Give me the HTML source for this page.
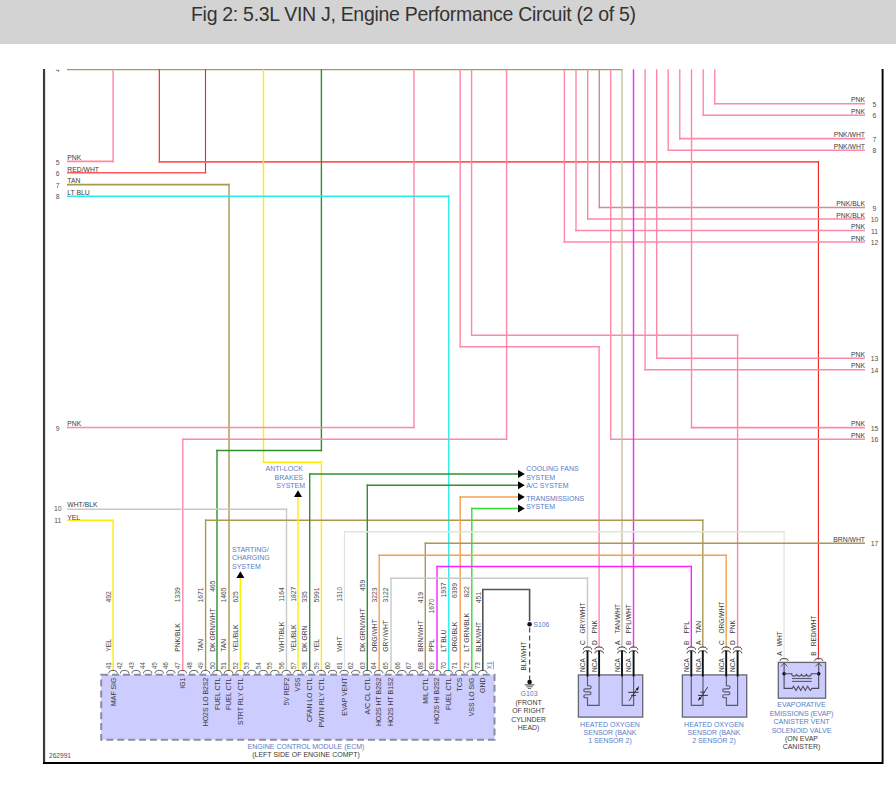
<!DOCTYPE html>
<html><head><meta charset="utf-8"><style>
html,body{margin:0;padding:0;background:#fff;width:896px;height:787px;overflow:hidden}
.hdr{position:absolute;left:0;top:0;width:896px;height:44px;background:#d3d3d3}
.ttl{position:absolute;left:191px;top:2.9px;font-family:"Liberation Sans",sans-serif;font-size:19.5px;letter-spacing:-0.3px;color:#333;white-space:nowrap}
svg{position:absolute;left:0;top:0}
svg text{font-family:"Liberation Sans",sans-serif}
</style></head><body>
<div class="hdr"></div>
<div class="ttl">Fig 2: 5.3L VIN J, Engine Performance Circuit (2 of 5)</div>
<svg width="896" height="787" viewBox="0 0 896 787">
<path d="M67.00,69.50 L622.60,69.50" stroke="#a39a5e" stroke-width="1.25" fill="none"/>
<path d="M113.10,69.30 L113.10,162.20" stroke="#ff88a6" stroke-width="1.4" fill="none"/>
<path d="M113.80,161.40 L67.00,161.40" stroke="#ff88a6" stroke-width="1.6" fill="none"/>
<path d="M205.50,69.30 L205.50,173.60" stroke="#ee2020" stroke-width="1.1" fill="none"/>
<path d="M206.05,172.80 L67.00,172.80" stroke="#ff5a5a" stroke-width="1.6" fill="none"/>
<path d="M159.30,69.30 L159.30,162.70" stroke="#ee2020" stroke-width="1.1" fill="none"/>
<path d="M158.75,161.90 L818.95,161.90" stroke="#ff5a5a" stroke-width="1.6" fill="none"/>
<path d="M818.40,161.10 L818.40,659.20" stroke="#ee2020" stroke-width="1.1" fill="none"/>
<path d="M67.00,184.60 L229.70,184.60" stroke="#a89852" stroke-width="1.6" fill="none"/>
<path d="M229.00,183.80 L229.00,671.00" stroke="#a89852" stroke-width="1.4" fill="none"/>
<path d="M263.50,69.30 L263.50,463.00" stroke="#ffee00" stroke-width="1.4" fill="none"/>
<path d="M262.80,462.20 L322.10,462.20" stroke="#ffee00" stroke-width="1.6" fill="none"/>
<path d="M321.40,461.40 L321.40,671.00" stroke="#ffee00" stroke-width="1.4" fill="none"/>
<path d="M321.40,69.30 L321.40,451.30" stroke="#2f902f" stroke-width="1.4" fill="none"/>
<path d="M322.10,450.50 L216.30,450.50" stroke="#2f902f" stroke-width="1.6" fill="none"/>
<path d="M217.00,449.70 L217.00,671.00" stroke="#2f902f" stroke-width="1.4" fill="none"/>
<path d="M414.00,69.30 L414.00,428.30" stroke="#ff88a6" stroke-width="1.4" fill="none"/>
<path d="M414.70,427.50 L67.00,427.50" stroke="#ff88a6" stroke-width="1.6" fill="none"/>
<path d="M67.00,196.30 L449.50,196.30" stroke="#22eeee" stroke-width="1.6" fill="none"/>
<path d="M448.80,195.50 L448.80,671.00" stroke="#22eeee" stroke-width="1.4" fill="none"/>
<path d="M460.20,69.30 L460.20,347.60" stroke="#ff88a6" stroke-width="1.4" fill="none"/>
<path d="M459.50,346.80 L599.80,346.80" stroke="#ff88a6" stroke-width="1.6" fill="none"/>
<path d="M599.10,346.00 L599.10,647.50" stroke="#ff88a6" stroke-width="1.4" fill="none"/>
<path d="M471.60,69.30 L471.60,336.00" stroke="#ff88a6" stroke-width="1.4" fill="none"/>
<path d="M470.90,335.20 L738.30,335.20" stroke="#ff88a6" stroke-width="1.6" fill="none"/>
<path d="M737.60,334.40 L737.60,647.50" stroke="#ff88a6" stroke-width="1.4" fill="none"/>
<path d="M506.60,69.30 L506.60,440.00" stroke="#ff88a6" stroke-width="1.4" fill="none"/>
<path d="M507.30,439.20 L182.10,439.20" stroke="#ff88a6" stroke-width="1.6" fill="none"/>
<path d="M182.80,438.40 L182.80,671.00" stroke="#ff88a6" stroke-width="1.4" fill="none"/>
<path d="M564.40,69.30 L564.40,242.80" stroke="#ff88a6" stroke-width="1.4" fill="none"/>
<path d="M563.70,242.00 L865.00,242.00" stroke="#ff88a6" stroke-width="1.6" fill="none"/>
<path d="M576.00,69.30 L576.00,231.30" stroke="#ff88a6" stroke-width="1.4" fill="none"/>
<path d="M575.30,230.50 L865.00,230.50" stroke="#ff88a6" stroke-width="1.6" fill="none"/>
<path d="M587.70,69.30 L587.70,219.80" stroke="#ff88a6" stroke-width="1.4" fill="none"/>
<path d="M587.00,219.00 L865.00,219.00" stroke="#ff88a6" stroke-width="1.6" fill="none"/>
<path d="M599.30,69.30 L599.30,208.30" stroke="#d4899a" stroke-width="1.4" fill="none"/>
<path d="M598.60,207.50 L865.00,207.50" stroke="#d4899a" stroke-width="1.6" fill="none"/>
<path d="M610.70,69.30 L610.70,440.00" stroke="#ff88a6" stroke-width="1.4" fill="none"/>
<path d="M610.00,439.20 L865.00,439.20" stroke="#ff88a6" stroke-width="1.6" fill="none"/>
<path d="M622.00,69.30 L622.00,647.50" stroke="#c9bd9c" stroke-width="1.4" fill="none"/>
<path d="M633.50,69.30 L633.50,647.50" stroke="#ff22ff" stroke-width="1.4" fill="none"/>
<path d="M645.10,69.30 L645.10,370.60" stroke="#ff88a6" stroke-width="1.4" fill="none"/>
<path d="M644.40,369.80 L865.00,369.80" stroke="#ff88a6" stroke-width="1.6" fill="none"/>
<path d="M656.70,69.30 L656.70,359.00" stroke="#ff88a6" stroke-width="1.4" fill="none"/>
<path d="M656.00,358.20 L865.00,358.20" stroke="#ff88a6" stroke-width="1.6" fill="none"/>
<path d="M668.20,69.30 L668.20,151.00" stroke="#ff88a6" stroke-width="1.4" fill="none"/>
<path d="M667.50,150.20 L865.00,150.20" stroke="#ff88a6" stroke-width="1.6" fill="none"/>
<path d="M679.80,69.30 L679.80,139.40" stroke="#ff88a6" stroke-width="1.4" fill="none"/>
<path d="M679.10,138.60 L865.00,138.60" stroke="#ff88a6" stroke-width="1.6" fill="none"/>
<path d="M691.50,69.30 L691.50,428.40" stroke="#ff88a6" stroke-width="1.4" fill="none"/>
<path d="M690.80,427.60 L865.00,427.60" stroke="#ff88a6" stroke-width="1.6" fill="none"/>
<path d="M703.20,69.30 L703.20,116.10" stroke="#ff88a6" stroke-width="1.4" fill="none"/>
<path d="M702.50,115.30 L865.00,115.30" stroke="#ff88a6" stroke-width="1.6" fill="none"/>
<path d="M714.80,69.30 L714.80,104.60" stroke="#ff88a6" stroke-width="1.4" fill="none"/>
<path d="M714.10,103.80 L865.00,103.80" stroke="#ff88a6" stroke-width="1.6" fill="none"/>
<path d="M67.00,509.20 L287.20,509.20" stroke="#c8c8c8" stroke-width="1.6" fill="none"/>
<path d="M286.50,508.40 L286.50,671.00" stroke="#c8c8c8" stroke-width="1.4" fill="none"/>
<path d="M67.00,520.20 L113.80,520.20" stroke="#ffee00" stroke-width="1.6" fill="none"/>
<path d="M113.10,519.40 L113.10,671.00" stroke="#ffee00" stroke-width="1.4" fill="none"/>
<path d="M205.60,671.00 L205.60,519.40" stroke="#a89852" stroke-width="1.4" fill="none"/>
<path d="M204.90,520.20 L703.50,520.20" stroke="#a89852" stroke-width="1.6" fill="none"/>
<path d="M702.80,519.40 L702.80,647.50" stroke="#a89852" stroke-width="1.4" fill="none"/>
<path d="M240.30,577.00 L240.30,671.00" stroke="#ffee00" stroke-width="1.4" fill="none"/>
<path d="M298.00,496.00 L298.00,671.00" stroke="#ffee00" stroke-width="1.4" fill="none"/>
<path d="M309.70,671.00 L309.70,473.20" stroke="#2f902f" stroke-width="1.4" fill="none"/>
<path d="M309.00,474.00 L518.00,474.00" stroke="#2f902f" stroke-width="1.6" fill="none"/>
<path d="M367.30,671.00 L367.30,484.50" stroke="#2f902f" stroke-width="1.4" fill="none"/>
<path d="M366.60,485.30 L518.00,485.30" stroke="#2f902f" stroke-width="1.6" fill="none"/>
<path d="M460.20,671.00 L460.20,496.20" stroke="#f5a050" stroke-width="1.4" fill="none"/>
<path d="M459.50,497.00 L518.00,497.00" stroke="#f5a050" stroke-width="1.6" fill="none"/>
<path d="M471.80,671.00 L471.80,507.70" stroke="#33dd33" stroke-width="1.4" fill="none"/>
<path d="M471.10,508.50 L518.00,508.50" stroke="#33dd33" stroke-width="1.6" fill="none"/>
<path d="M344.50,671.00 L344.50,530.90" stroke="#e2e2e2" stroke-width="1.2" fill="none"/>
<path d="M343.90,531.70 L784.70,531.70" stroke="#e2e2e2" stroke-width="1.6" fill="none"/>
<path d="M784.10,530.90 L784.10,659.20" stroke="#e2e2e2" stroke-width="1.2" fill="none"/>
<path d="M425.30,671.00 L425.30,542.50" stroke="#a89852" stroke-width="1.4" fill="none"/>
<path d="M424.60,543.30 L865.00,543.30" stroke="#a89852" stroke-width="1.6" fill="none"/>
<path d="M379.20,671.00 L379.20,554.50" stroke="#f5a050" stroke-width="1.4" fill="none"/>
<path d="M378.50,555.30 L726.90,555.30" stroke="#f5a050" stroke-width="1.6" fill="none"/>
<path d="M726.20,554.50 L726.20,647.50" stroke="#f5a050" stroke-width="1.4" fill="none"/>
<path d="M437.00,671.00 L437.00,565.70" stroke="#ff22ff" stroke-width="1.4" fill="none"/>
<path d="M436.30,566.50 L692.00,566.50" stroke="#ff22ff" stroke-width="1.6" fill="none"/>
<path d="M691.30,565.70 L691.30,647.50" stroke="#ff22ff" stroke-width="1.4" fill="none"/>
<path d="M391.00,671.00 L391.00,577.40" stroke="#c8c8c8" stroke-width="1.4" fill="none"/>
<path d="M390.30,578.20 L588.20,578.20" stroke="#c8c8c8" stroke-width="1.6" fill="none"/>
<path d="M587.50,577.40 L587.50,647.50" stroke="#c8c8c8" stroke-width="1.4" fill="none"/>
<path d="M482.80,671.00 L482.80,589.50 L529.60,589.50 L529.60,621.00" stroke="#555" stroke-width="1.6" fill="none"/>
<path d="M529.60,627.50 L529.60,680.00" stroke="#555" stroke-width="1.3" fill="none" stroke-dasharray="5,3"/>
<path d="M236.40,578.00 L240.40,571.20 L244.40,578.00 Z" fill="#000"/>
<path d="M294.00,497.00 L298.00,490.20 L302.00,497.00 Z" fill="#000"/>
<path d="M518.00,470.00 L524.80,474.00 L518.00,478.00 Z" fill="#000"/>
<path d="M518.00,481.30 L524.80,485.30 L518.00,489.30 Z" fill="#000"/>
<path d="M518.00,493.00 L524.80,497.00 L518.00,501.00 Z" fill="#000"/>
<path d="M518.00,504.50 L524.80,508.50 L518.00,512.50 Z" fill="#000"/>
<path d="M44.05,69.00 L44.05,764.10" stroke="#3c3c3c" stroke-width="2.2" fill="none"/>
<path d="M43.00,763.00 L882.60,763.00 L882.60,69.00" stroke="#000" stroke-width="1.9" fill="none"/>
<text x="67.30" y="160.20" font-size="6.8" fill="#3a3a3a">PNK</text>
<text x="57.70" y="164.50" font-size="6.8" fill="#505050" text-anchor="middle">5</text>
<text x="67.30" y="171.60" font-size="6.8" fill="#3a3a3a">RED/WHT</text>
<text x="57.70" y="175.90" font-size="6.8" fill="#505050" text-anchor="middle">6</text>
<text x="67.30" y="183.40" font-size="6.8" fill="#3a3a3a">TAN</text>
<text x="57.70" y="187.70" font-size="6.8" fill="#505050" text-anchor="middle">7</text>
<text x="67.30" y="195.10" font-size="6.8" fill="#3a3a3a">LT BLU</text>
<text x="57.70" y="199.40" font-size="6.8" fill="#505050" text-anchor="middle">8</text>
<text x="67.30" y="426.30" font-size="6.8" fill="#3a3a3a">PNK</text>
<text x="57.70" y="430.60" font-size="6.8" fill="#505050" text-anchor="middle">9</text>
<text x="67.30" y="507.20" font-size="6.8" fill="#3a3a3a">WHT/BLK</text>
<text x="57.70" y="511.30" font-size="6.8" fill="#505050" text-anchor="middle">10</text>
<text x="67.30" y="519.80" font-size="6.8" fill="#3a3a3a">YEL</text>
<text x="57.70" y="523.30" font-size="6.8" fill="#505050" text-anchor="middle">11</text>
<clipPath id="c4"><rect x="40" y="69.8" width="40" height="10"/></clipPath>
<text x="57.70" y="71.50" font-size="6.8" fill="#505050" text-anchor="middle" clip-path="url(#c4)">4</text>
<text x="865.00" y="102.40" font-size="6.8" fill="#3a3a3a" text-anchor="end">PNK</text>
<text x="874.50" y="106.90" font-size="6.8" fill="#505050" text-anchor="middle">5</text>
<text x="865.00" y="113.90" font-size="6.8" fill="#3a3a3a" text-anchor="end">PNK</text>
<text x="874.50" y="118.40" font-size="6.8" fill="#505050" text-anchor="middle">6</text>
<text x="865.00" y="137.20" font-size="6.8" fill="#3a3a3a" text-anchor="end">PNK/WHT</text>
<text x="874.50" y="141.70" font-size="6.8" fill="#505050" text-anchor="middle">7</text>
<text x="865.00" y="148.80" font-size="6.8" fill="#3a3a3a" text-anchor="end">PNK/WHT</text>
<text x="874.50" y="153.30" font-size="6.8" fill="#505050" text-anchor="middle">8</text>
<text x="865.00" y="206.10" font-size="6.8" fill="#3a3a3a" text-anchor="end">PNK/BLK</text>
<text x="874.50" y="210.60" font-size="6.8" fill="#505050" text-anchor="middle">9</text>
<text x="865.00" y="217.60" font-size="6.8" fill="#3a3a3a" text-anchor="end">PNK/BLK</text>
<text x="874.50" y="222.10" font-size="6.8" fill="#505050" text-anchor="middle">10</text>
<text x="865.00" y="229.10" font-size="6.8" fill="#3a3a3a" text-anchor="end">PNK</text>
<text x="874.50" y="233.60" font-size="6.8" fill="#505050" text-anchor="middle">11</text>
<text x="865.00" y="240.60" font-size="6.8" fill="#3a3a3a" text-anchor="end">PNK</text>
<text x="874.50" y="245.10" font-size="6.8" fill="#505050" text-anchor="middle">12</text>
<text x="865.00" y="356.80" font-size="6.8" fill="#3a3a3a" text-anchor="end">PNK</text>
<text x="874.50" y="361.30" font-size="6.8" fill="#505050" text-anchor="middle">13</text>
<text x="865.00" y="368.40" font-size="6.8" fill="#3a3a3a" text-anchor="end">PNK</text>
<text x="874.50" y="372.90" font-size="6.8" fill="#505050" text-anchor="middle">14</text>
<text x="865.00" y="426.20" font-size="6.8" fill="#3a3a3a" text-anchor="end">PNK</text>
<text x="874.50" y="430.70" font-size="6.8" fill="#505050" text-anchor="middle">15</text>
<text x="865.00" y="437.80" font-size="6.8" fill="#3a3a3a" text-anchor="end">PNK</text>
<text x="874.50" y="442.30" font-size="6.8" fill="#505050" text-anchor="middle">16</text>
<text x="865.00" y="541.90" font-size="6.8" fill="#3a3a3a" text-anchor="end">BRN/WHT</text>
<text x="874.50" y="546.40" font-size="6.8" fill="#505050" text-anchor="middle">17</text>
<text x="265.60" y="470.80" font-size="7" fill="#5a7cc6">ANTI-LOCK</text>
<text x="274.60" y="480.00" font-size="7" fill="#5a7cc6">BRAKES</text>
<text x="276.30" y="487.80" font-size="7" fill="#5a7cc6">SYSTEM</text>
<text x="232.00" y="551.70" font-size="7" fill="#5a7cc6">STARTING/</text>
<text x="232.00" y="559.60" font-size="7" fill="#5a7cc6">CHARGING</text>
<text x="232.00" y="568.60" font-size="7" fill="#5a7cc6">SYSTEM</text>
<text x="526.20" y="471.10" font-size="7" fill="#5a7cc6">COOLING FANS</text>
<text x="526.20" y="479.80" font-size="7" fill="#5a7cc6">SYSTEM</text>
<text x="526.20" y="488.00" font-size="7" fill="#5a7cc6">A/C SYSTEM</text>
<text x="526.20" y="501.00" font-size="7" fill="#5a7cc6">TRANSMISSIONS</text>
<text x="526.20" y="509.00" font-size="7" fill="#5a7cc6">SYSTEM</text>
<rect x="101.2" y="674.8" width="393.3" height="64.9" fill="#ccccff" stroke="#8c8ca0" stroke-width="2" stroke-dasharray="7,3.9"/>
<path d="M108.80,673.40 A4.2,3.0 0 0 1 117.20,673.40" stroke="#505050" stroke-width="0.9" fill="none"/>
<text transform="translate(110.70,669.20) rotate(-90)" font-size="6.4" fill="#505050">41</text>
<path d="M120.36,673.40 A4.2,3.0 0 0 1 128.76,673.40" stroke="#505050" stroke-width="0.9" fill="none"/>
<text transform="translate(122.26,669.20) rotate(-90)" font-size="6.4" fill="#505050">42</text>
<path d="M131.91,673.40 A4.2,3.0 0 0 1 140.31,673.40" stroke="#505050" stroke-width="0.9" fill="none"/>
<text transform="translate(133.81,669.20) rotate(-90)" font-size="6.4" fill="#505050">43</text>
<path d="M143.47,673.40 A4.2,3.0 0 0 1 151.87,673.40" stroke="#505050" stroke-width="0.9" fill="none"/>
<text transform="translate(145.37,669.20) rotate(-90)" font-size="6.4" fill="#505050">44</text>
<path d="M155.02,673.40 A4.2,3.0 0 0 1 163.42,673.40" stroke="#505050" stroke-width="0.9" fill="none"/>
<text transform="translate(156.92,669.20) rotate(-90)" font-size="6.4" fill="#505050">45</text>
<path d="M166.58,673.40 A4.2,3.0 0 0 1 174.98,673.40" stroke="#505050" stroke-width="0.9" fill="none"/>
<text transform="translate(168.48,669.20) rotate(-90)" font-size="6.4" fill="#505050">46</text>
<path d="M178.14,673.40 A4.2,3.0 0 0 1 186.54,673.40" stroke="#505050" stroke-width="0.9" fill="none"/>
<text transform="translate(180.04,669.20) rotate(-90)" font-size="6.4" fill="#505050">47</text>
<path d="M189.69,673.40 A4.2,3.0 0 0 1 198.09,673.40" stroke="#505050" stroke-width="0.9" fill="none"/>
<text transform="translate(191.59,669.20) rotate(-90)" font-size="6.4" fill="#505050">48</text>
<path d="M201.25,673.40 A4.2,3.0 0 0 1 209.65,673.40" stroke="#505050" stroke-width="0.9" fill="none"/>
<text transform="translate(203.15,669.20) rotate(-90)" font-size="6.4" fill="#505050">49</text>
<path d="M212.80,673.40 A4.2,3.0 0 0 1 221.20,673.40" stroke="#505050" stroke-width="0.9" fill="none"/>
<text transform="translate(214.70,669.20) rotate(-90)" font-size="6.4" fill="#505050">50</text>
<path d="M224.36,673.40 A4.2,3.0 0 0 1 232.76,673.40" stroke="#505050" stroke-width="0.9" fill="none"/>
<text transform="translate(226.26,669.20) rotate(-90)" font-size="6.4" fill="#505050">51</text>
<path d="M235.92,673.40 A4.2,3.0 0 0 1 244.32,673.40" stroke="#505050" stroke-width="0.9" fill="none"/>
<text transform="translate(237.82,669.20) rotate(-90)" font-size="6.4" fill="#505050">52</text>
<path d="M247.47,673.40 A4.2,3.0 0 0 1 255.87,673.40" stroke="#505050" stroke-width="0.9" fill="none"/>
<text transform="translate(249.37,669.20) rotate(-90)" font-size="6.4" fill="#505050">53</text>
<path d="M259.03,673.40 A4.2,3.0 0 0 1 267.43,673.40" stroke="#505050" stroke-width="0.9" fill="none"/>
<text transform="translate(260.93,669.20) rotate(-90)" font-size="6.4" fill="#505050">54</text>
<path d="M270.58,673.40 A4.2,3.0 0 0 1 278.98,673.40" stroke="#505050" stroke-width="0.9" fill="none"/>
<text transform="translate(272.48,669.20) rotate(-90)" font-size="6.4" fill="#505050">55</text>
<path d="M282.14,673.40 A4.2,3.0 0 0 1 290.54,673.40" stroke="#505050" stroke-width="0.9" fill="none"/>
<text transform="translate(284.04,669.20) rotate(-90)" font-size="6.4" fill="#505050">56</text>
<path d="M293.70,673.40 A4.2,3.0 0 0 1 302.10,673.40" stroke="#505050" stroke-width="0.9" fill="none"/>
<text transform="translate(295.60,669.20) rotate(-90)" font-size="6.4" fill="#505050">57</text>
<path d="M305.25,673.40 A4.2,3.0 0 0 1 313.65,673.40" stroke="#505050" stroke-width="0.9" fill="none"/>
<text transform="translate(307.15,669.20) rotate(-90)" font-size="6.4" fill="#505050">58</text>
<path d="M316.81,673.40 A4.2,3.0 0 0 1 325.21,673.40" stroke="#505050" stroke-width="0.9" fill="none"/>
<text transform="translate(318.71,669.20) rotate(-90)" font-size="6.4" fill="#505050">59</text>
<path d="M328.36,673.40 A4.2,3.0 0 0 1 336.76,673.40" stroke="#505050" stroke-width="0.9" fill="none"/>
<text transform="translate(330.26,669.20) rotate(-90)" font-size="6.4" fill="#505050">60</text>
<path d="M339.92,673.40 A4.2,3.0 0 0 1 348.32,673.40" stroke="#505050" stroke-width="0.9" fill="none"/>
<text transform="translate(341.82,669.20) rotate(-90)" font-size="6.4" fill="#505050">61</text>
<path d="M351.48,673.40 A4.2,3.0 0 0 1 359.88,673.40" stroke="#505050" stroke-width="0.9" fill="none"/>
<text transform="translate(353.38,669.20) rotate(-90)" font-size="6.4" fill="#505050">62</text>
<path d="M363.03,673.40 A4.2,3.0 0 0 1 371.43,673.40" stroke="#505050" stroke-width="0.9" fill="none"/>
<text transform="translate(364.93,669.20) rotate(-90)" font-size="6.4" fill="#505050">63</text>
<path d="M374.59,673.40 A4.2,3.0 0 0 1 382.99,673.40" stroke="#505050" stroke-width="0.9" fill="none"/>
<text transform="translate(376.49,669.20) rotate(-90)" font-size="6.4" fill="#505050">64</text>
<path d="M386.14,673.40 A4.2,3.0 0 0 1 394.54,673.40" stroke="#505050" stroke-width="0.9" fill="none"/>
<text transform="translate(388.04,669.20) rotate(-90)" font-size="6.4" fill="#505050">65</text>
<path d="M397.70,673.40 A4.2,3.0 0 0 1 406.10,673.40" stroke="#505050" stroke-width="0.9" fill="none"/>
<text transform="translate(399.60,669.20) rotate(-90)" font-size="6.4" fill="#505050">66</text>
<path d="M409.26,673.40 A4.2,3.0 0 0 1 417.66,673.40" stroke="#505050" stroke-width="0.9" fill="none"/>
<text transform="translate(411.16,669.20) rotate(-90)" font-size="6.4" fill="#505050">67</text>
<path d="M420.81,673.40 A4.2,3.0 0 0 1 429.21,673.40" stroke="#505050" stroke-width="0.9" fill="none"/>
<text transform="translate(422.71,669.20) rotate(-90)" font-size="6.4" fill="#505050">68</text>
<path d="M432.37,673.40 A4.2,3.0 0 0 1 440.77,673.40" stroke="#505050" stroke-width="0.9" fill="none"/>
<text transform="translate(434.27,669.20) rotate(-90)" font-size="6.4" fill="#505050">69</text>
<path d="M443.92,673.40 A4.2,3.0 0 0 1 452.32,673.40" stroke="#505050" stroke-width="0.9" fill="none"/>
<text transform="translate(445.82,669.20) rotate(-90)" font-size="6.4" fill="#505050">70</text>
<path d="M455.48,673.40 A4.2,3.0 0 0 1 463.88,673.40" stroke="#505050" stroke-width="0.9" fill="none"/>
<text transform="translate(457.38,669.20) rotate(-90)" font-size="6.4" fill="#505050">71</text>
<path d="M467.04,673.40 A4.2,3.0 0 0 1 475.44,673.40" stroke="#505050" stroke-width="0.9" fill="none"/>
<text transform="translate(468.94,669.20) rotate(-90)" font-size="6.4" fill="#505050">72</text>
<path d="M478.59,673.40 A4.2,3.0 0 0 1 486.99,673.40" stroke="#505050" stroke-width="0.9" fill="none"/>
<text transform="translate(480.49,669.20) rotate(-90)" font-size="6.4" fill="#505050">73</text>
<text transform="translate(492.05,669.20) rotate(-90)" font-size="6.4" fill="#5a7cc6" text-decoration="underline">X1</text>
<text transform="translate(110.80,651.80) rotate(-90)" font-size="6.75" fill="#3a3a3a">YEL</text>
<text transform="translate(110.80,602.60) rotate(-90)" font-size="6.75" fill="#505050">492</text>
<text transform="translate(180.14,651.80) rotate(-90)" font-size="6.75" fill="#3a3a3a">PNK/BLK</text>
<text transform="translate(180.14,602.20) rotate(-90)" font-size="6.75" fill="#505050">1339</text>
<text transform="translate(203.25,651.80) rotate(-90)" font-size="6.75" fill="#3a3a3a">TAN</text>
<text transform="translate(203.25,602.40) rotate(-90)" font-size="6.75" fill="#505050">1671</text>
<text transform="translate(214.80,651.80) rotate(-90)" font-size="6.75" fill="#3a3a3a">DK GRN/WHT</text>
<text transform="translate(214.80,591.70) rotate(-90)" font-size="6.75" fill="#505050">465</text>
<text transform="translate(226.36,651.80) rotate(-90)" font-size="6.75" fill="#3a3a3a">TAN</text>
<text transform="translate(226.36,602.40) rotate(-90)" font-size="6.75" fill="#505050">1465</text>
<text transform="translate(237.92,651.80) rotate(-90)" font-size="6.75" fill="#3a3a3a">YEL/BLK</text>
<text transform="translate(237.92,602.40) rotate(-90)" font-size="6.75" fill="#505050">625</text>
<text transform="translate(284.14,651.80) rotate(-90)" font-size="6.75" fill="#3a3a3a">WHT/BLK</text>
<text transform="translate(284.14,601.70) rotate(-90)" font-size="6.75" fill="#505050">1164</text>
<text transform="translate(295.70,651.80) rotate(-90)" font-size="6.75" fill="#3a3a3a">YEL/BLK</text>
<text transform="translate(295.70,601.70) rotate(-90)" font-size="6.75" fill="#505050">1827</text>
<text transform="translate(307.25,651.80) rotate(-90)" font-size="6.75" fill="#3a3a3a">DK GRN</text>
<text transform="translate(307.25,602.40) rotate(-90)" font-size="6.75" fill="#505050">335</text>
<text transform="translate(318.81,651.80) rotate(-90)" font-size="6.75" fill="#3a3a3a">YEL</text>
<text transform="translate(318.81,602.40) rotate(-90)" font-size="6.75" fill="#505050">5991</text>
<text transform="translate(341.92,651.80) rotate(-90)" font-size="6.75" fill="#3a3a3a">WHT</text>
<text transform="translate(341.92,601.70) rotate(-90)" font-size="6.75" fill="#505050">1310</text>
<text transform="translate(365.03,651.80) rotate(-90)" font-size="6.75" fill="#3a3a3a">DK GRN/WHT</text>
<text transform="translate(365.03,591.00) rotate(-90)" font-size="6.75" fill="#505050">459</text>
<text transform="translate(376.59,651.80) rotate(-90)" font-size="6.75" fill="#3a3a3a">ORG/WHT</text>
<text transform="translate(376.59,602.40) rotate(-90)" font-size="6.75" fill="#505050">3223</text>
<text transform="translate(388.14,651.80) rotate(-90)" font-size="6.75" fill="#3a3a3a">GRY/WHT</text>
<text transform="translate(388.14,602.40) rotate(-90)" font-size="6.75" fill="#505050">3122</text>
<text transform="translate(422.81,651.80) rotate(-90)" font-size="6.75" fill="#3a3a3a">BRN/WHT</text>
<text transform="translate(422.81,603.20) rotate(-90)" font-size="6.75" fill="#505050">419</text>
<text transform="translate(434.37,651.80) rotate(-90)" font-size="6.75" fill="#3a3a3a">PPL</text>
<text transform="translate(434.37,613.60) rotate(-90)" font-size="6.75" fill="#505050">1670</text>
<text transform="translate(445.92,651.80) rotate(-90)" font-size="6.75" fill="#3a3a3a">LT BLU</text>
<text transform="translate(445.92,597.60) rotate(-90)" font-size="6.75" fill="#505050">1937</text>
<text transform="translate(457.48,651.80) rotate(-90)" font-size="6.75" fill="#3a3a3a">ORG/BLK</text>
<text transform="translate(457.48,598.00) rotate(-90)" font-size="6.75" fill="#505050">6399</text>
<text transform="translate(469.04,651.80) rotate(-90)" font-size="6.75" fill="#3a3a3a">LT GRN/BLK</text>
<text transform="translate(469.04,597.60) rotate(-90)" font-size="6.75" fill="#505050">822</text>
<text transform="translate(480.59,651.80) rotate(-90)" font-size="6.75" fill="#3a3a3a">BLK/WHT</text>
<text transform="translate(480.59,603.20) rotate(-90)" font-size="6.75" fill="#505050">451</text>
<text transform="translate(115.50,677.60) rotate(-90)" font-size="6.9" fill="#3a3a3a" text-anchor="end">MAF SIG</text>
<text transform="translate(184.84,677.60) rotate(-90)" font-size="6.9" fill="#3a3a3a" text-anchor="end">IG1</text>
<text transform="translate(207.95,677.60) rotate(-90)" font-size="6.9" fill="#3a3a3a" text-anchor="end">HO2S LO B2S2</text>
<text transform="translate(219.50,677.60) rotate(-90)" font-size="6.9" fill="#3a3a3a" text-anchor="end">FUEL CTL</text>
<text transform="translate(231.06,677.60) rotate(-90)" font-size="6.9" fill="#3a3a3a" text-anchor="end">FUEL CTL</text>
<text transform="translate(242.62,677.60) rotate(-90)" font-size="6.9" fill="#3a3a3a" text-anchor="end">STRT RLY CTL</text>
<text transform="translate(288.84,677.60) rotate(-90)" font-size="6.9" fill="#3a3a3a" text-anchor="end">5V REF2</text>
<text transform="translate(300.40,677.60) rotate(-90)" font-size="6.9" fill="#3a3a3a" text-anchor="end">VSS</text>
<text transform="translate(311.95,677.60) rotate(-90)" font-size="6.9" fill="#3a3a3a" text-anchor="end">CFAN LO CTL</text>
<text transform="translate(323.51,677.60) rotate(-90)" font-size="6.9" fill="#3a3a3a" text-anchor="end">PWTN RLY CTL</text>
<text transform="translate(346.62,677.60) rotate(-90)" font-size="6.9" fill="#3a3a3a" text-anchor="end">EVAP VENT</text>
<text transform="translate(369.73,677.60) rotate(-90)" font-size="6.9" fill="#3a3a3a" text-anchor="end">A/C CL CTL</text>
<text transform="translate(381.29,677.60) rotate(-90)" font-size="6.9" fill="#3a3a3a" text-anchor="end">HO2S HT B2S2</text>
<text transform="translate(392.84,677.60) rotate(-90)" font-size="6.9" fill="#3a3a3a" text-anchor="end">HO2S HT B1S2</text>
<text transform="translate(427.51,677.60) rotate(-90)" font-size="6.9" fill="#3a3a3a" text-anchor="end">MIL CTL</text>
<text transform="translate(439.07,677.60) rotate(-90)" font-size="6.9" fill="#3a3a3a" text-anchor="end">HO2S HI B2S2</text>
<text transform="translate(450.62,677.60) rotate(-90)" font-size="6.9" fill="#3a3a3a" text-anchor="end">FUEL CTL</text>
<text transform="translate(462.18,677.60) rotate(-90)" font-size="6.9" fill="#3a3a3a" text-anchor="end">TCS</text>
<text transform="translate(473.74,677.60) rotate(-90)" font-size="6.9" fill="#3a3a3a" text-anchor="end">VSS LO SIG</text>
<text transform="translate(485.29,677.60) rotate(-90)" font-size="6.9" fill="#3a3a3a" text-anchor="end">GND</text>
<text x="306.00" y="749.20" font-size="7.0" fill="#5a7cc6" text-anchor="middle">ENGINE CONTROL MODULE (ECM)</text>
<text x="306.00" y="757.00" font-size="7.0" fill="#3a3a3a" text-anchor="middle">(LEFT SIDE OF ENGINE COMPT)</text>
<text x="49.00" y="757.80" font-size="6.6" fill="#505050">262991</text>
<circle cx="529.6" cy="624.3" r="2.3" fill="#111"/>
<circle cx="529.6" cy="682" r="2.3" fill="#111"/>
<path d="M524.80,684.90 L534.20,684.90" stroke="#333" stroke-width="1" fill="none"/>
<path d="M526.40,686.80 L532.60,686.80" stroke="#444" stroke-width="0.9" fill="none"/>
<path d="M527.90,688.60 L531.10,688.60" stroke="#555" stroke-width="0.9" fill="none"/>
<text x="533.40" y="626.60" font-size="6.8" fill="#5a7cc6">S106</text>
<text x="529.10" y="696.00" font-size="7.0" fill="#5a7cc6" text-anchor="middle">G103</text>
<text transform="translate(526.00,670.50) rotate(-90)" font-size="6.5" fill="#3a3a3a">BLK/WHT</text>
<text x="528.60" y="705.00" font-size="6.9" fill="#3a3a3a" text-anchor="middle">(FRONT</text>
<text x="528.60" y="713.40" font-size="6.9" fill="#3a3a3a" text-anchor="middle">OF RIGHT</text>
<text x="528.60" y="721.80" font-size="6.9" fill="#3a3a3a" text-anchor="middle">CYLINDER</text>
<text x="528.60" y="730.20" font-size="6.9" fill="#3a3a3a" text-anchor="middle">HEAD)</text>
<rect x="578.40" y="674.9" width="64.3" height="42.2" fill="#ccccff" stroke="#666670" stroke-width="1.3"/>
<path d="M587.50,675 V685.7 H589.60 A1.5,1.5 0 0 1 589.60,688.8 H585.30 A1.55,1.55 0 0 0 585.30,691.9 H589.60 A1.4,1.4 0 0 1 589.60,694.7 H585.30 A1.5,1.5 0 0 0 585.30,697.7 H587.50 V705.4 H599.10 V675" stroke="#5a5a6a" stroke-width="1.15" fill="none"/>
<path d="M622.20,675 V705.4 H633.60 V675" stroke="#5a5a6a" stroke-width="1.15" fill="none"/>
<path d="M629.10,700.80 L637.50,688.20" stroke="#333" stroke-width="1.0" fill="none"/>
<path d="M639.10,686.0 L635.80,689.3 L637.90,690.4 Z" fill="#111"/>
<path d="M628.20,692.30 L638.70,692.30" stroke="#333" stroke-width="1.0" fill="none"/>
<path d="M631.10,695.40 L636.00,695.40" stroke="#333" stroke-width="1.0" fill="none"/>
<path d="M583.30,649.60 A4.20,2.60 0 0 1 591.70,649.60" stroke="#333" stroke-width="1.0" fill="none"/>
<path d="M583.30,653.30 A4.20,2.60 0 0 1 591.70,653.30" stroke="#333" stroke-width="1.0" fill="none"/>
<path d="M587.50,650.80 L587.50,676.50" stroke="#111" stroke-width="1.9" fill="none"/>
<text transform="translate(585.20,645.00) rotate(-90)" font-size="6.6" fill="#3a3a3a">C</text>
<text transform="translate(585.20,633.60) rotate(-90)" font-size="6.6" fill="#3a3a3a">GRY/WHT</text>
<text transform="translate(585.20,672.00) rotate(-90)" font-size="6.5" fill="#3a3a3a">NCA</text>
<path d="M594.90,649.60 A4.20,2.60 0 0 1 603.30,649.60" stroke="#333" stroke-width="1.0" fill="none"/>
<path d="M594.90,653.30 A4.20,2.60 0 0 1 603.30,653.30" stroke="#333" stroke-width="1.0" fill="none"/>
<path d="M599.10,650.80 L599.10,676.50" stroke="#111" stroke-width="1.9" fill="none"/>
<text transform="translate(596.80,645.00) rotate(-90)" font-size="6.6" fill="#3a3a3a">D</text>
<text transform="translate(596.80,633.60) rotate(-90)" font-size="6.6" fill="#3a3a3a">PNK</text>
<text transform="translate(596.80,672.00) rotate(-90)" font-size="6.5" fill="#3a3a3a">NCA</text>
<path d="M617.80,649.60 A4.20,2.60 0 0 1 626.20,649.60" stroke="#333" stroke-width="1.0" fill="none"/>
<path d="M617.80,653.30 A4.20,2.60 0 0 1 626.20,653.30" stroke="#333" stroke-width="1.0" fill="none"/>
<path d="M622.00,650.80 L622.00,676.50" stroke="#111" stroke-width="1.9" fill="none"/>
<text transform="translate(619.70,645.00) rotate(-90)" font-size="6.6" fill="#3a3a3a">A</text>
<text transform="translate(619.70,633.60) rotate(-90)" font-size="6.6" fill="#3a3a3a">TAN/WHT</text>
<text transform="translate(619.70,672.00) rotate(-90)" font-size="6.5" fill="#3a3a3a">NCA</text>
<path d="M629.40,649.60 A4.20,2.60 0 0 1 637.80,649.60" stroke="#333" stroke-width="1.0" fill="none"/>
<path d="M629.40,653.30 A4.20,2.60 0 0 1 637.80,653.30" stroke="#333" stroke-width="1.0" fill="none"/>
<path d="M633.60,650.80 L633.60,676.50" stroke="#111" stroke-width="1.9" fill="none"/>
<text transform="translate(631.30,645.00) rotate(-90)" font-size="6.6" fill="#3a3a3a">B</text>
<text transform="translate(631.30,633.60) rotate(-90)" font-size="6.6" fill="#3a3a3a">PPL/WHT</text>
<text transform="translate(631.30,672.00) rotate(-90)" font-size="6.5" fill="#3a3a3a">NCA</text>
<text x="610.00" y="726.80" font-size="7" fill="#5a7cc6" text-anchor="middle">HEATED OXYGEN</text>
<text x="610.00" y="734.80" font-size="7" fill="#5a7cc6" text-anchor="middle">SENSOR (BANK</text>
<text x="610.00" y="742.80" font-size="7" fill="#5a7cc6" text-anchor="middle">1 SENSOR 2)</text>
<rect x="682.40" y="674.9" width="64.3" height="42.2" fill="#ccccff" stroke="#666670" stroke-width="1.3"/>
<path d="M726.40,675 V685.7 H728.50 A1.5,1.5 0 0 1 728.50,688.8 H724.20 A1.55,1.55 0 0 0 724.20,691.9 H728.50 A1.4,1.4 0 0 1 728.50,694.7 H724.20 A1.5,1.5 0 0 0 724.20,697.7 H726.40 V705.4 H737.60 V675" stroke="#5a5a6a" stroke-width="1.15" fill="none"/>
<path d="M691.30,675 V705.4 H703.00 V675" stroke="#5a5a6a" stroke-width="1.15" fill="none"/>
<path d="M700.00,698.60 L707.70,687.10" stroke="#333" stroke-width="1.0" fill="none"/>
<path d="M698.00,701.0 L699.30,697.0 L701.50,698.4 Z" fill="#111"/>
<path d="M698.00,695.40 L707.90,695.40" stroke="#333" stroke-width="1.0" fill="none"/>
<path d="M700.40,692.10 L704.90,692.10" stroke="#333" stroke-width="1.0" fill="none"/>
<path d="M687.10,649.60 A4.20,2.60 0 0 1 695.50,649.60" stroke="#333" stroke-width="1.0" fill="none"/>
<path d="M687.10,653.30 A4.20,2.60 0 0 1 695.50,653.30" stroke="#333" stroke-width="1.0" fill="none"/>
<path d="M691.30,650.80 L691.30,676.50" stroke="#111" stroke-width="1.9" fill="none"/>
<text transform="translate(689.00,645.00) rotate(-90)" font-size="6.6" fill="#3a3a3a">B</text>
<text transform="translate(689.00,633.60) rotate(-90)" font-size="6.6" fill="#3a3a3a">PPL</text>
<text transform="translate(689.00,672.00) rotate(-90)" font-size="6.5" fill="#3a3a3a">NCA</text>
<path d="M698.60,649.60 A4.20,2.60 0 0 1 707.00,649.60" stroke="#333" stroke-width="1.0" fill="none"/>
<path d="M698.60,653.30 A4.20,2.60 0 0 1 707.00,653.30" stroke="#333" stroke-width="1.0" fill="none"/>
<path d="M702.80,650.80 L702.80,676.50" stroke="#111" stroke-width="1.9" fill="none"/>
<text transform="translate(700.50,645.00) rotate(-90)" font-size="6.6" fill="#3a3a3a">A</text>
<text transform="translate(700.50,633.60) rotate(-90)" font-size="6.6" fill="#3a3a3a">TAN</text>
<text transform="translate(700.50,672.00) rotate(-90)" font-size="6.5" fill="#3a3a3a">NCA</text>
<path d="M722.00,649.60 A4.20,2.60 0 0 1 730.40,649.60" stroke="#333" stroke-width="1.0" fill="none"/>
<path d="M722.00,653.30 A4.20,2.60 0 0 1 730.40,653.30" stroke="#333" stroke-width="1.0" fill="none"/>
<path d="M726.20,650.80 L726.20,676.50" stroke="#111" stroke-width="1.9" fill="none"/>
<text transform="translate(723.90,645.00) rotate(-90)" font-size="6.6" fill="#3a3a3a">C</text>
<text transform="translate(723.90,633.60) rotate(-90)" font-size="6.6" fill="#3a3a3a">ORG/WHT</text>
<text transform="translate(723.90,672.00) rotate(-90)" font-size="6.5" fill="#3a3a3a">NCA</text>
<path d="M733.40,649.60 A4.20,2.60 0 0 1 741.80,649.60" stroke="#333" stroke-width="1.0" fill="none"/>
<path d="M733.40,653.30 A4.20,2.60 0 0 1 741.80,653.30" stroke="#333" stroke-width="1.0" fill="none"/>
<path d="M737.60,650.80 L737.60,676.50" stroke="#111" stroke-width="1.9" fill="none"/>
<text transform="translate(735.30,645.00) rotate(-90)" font-size="6.6" fill="#3a3a3a">D</text>
<text transform="translate(735.30,633.60) rotate(-90)" font-size="6.6" fill="#3a3a3a">PNK</text>
<text transform="translate(735.30,672.00) rotate(-90)" font-size="6.5" fill="#3a3a3a">NCA</text>
<text x="714.00" y="726.80" font-size="7" fill="#5a7cc6" text-anchor="middle">HEATED OXYGEN</text>
<text x="714.00" y="734.80" font-size="7" fill="#5a7cc6" text-anchor="middle">SENSOR (BANK</text>
<text x="714.00" y="742.80" font-size="7" fill="#5a7cc6" text-anchor="middle">2 SENSOR 2)</text>
<rect x="778.3" y="662.4" width="47.3" height="35.8" fill="#ccccff" stroke="#666670" stroke-width="1.3"/>
<path d="M780.00,660.80 A4.10,2.20 0 0 1 788.20,660.80" stroke="#333" stroke-width="1.0" fill="none"/>
<path d="M780.90,666.4 L784.10,663.0 L787.30,666.4" stroke="#5a5a6a" stroke-width="1" fill="none"/>
<text transform="translate(781.80,655.80) rotate(-90)" font-size="6.6" fill="#3a3a3a">A</text>
<text transform="translate(781.80,646.20) rotate(-90)" font-size="6.6" fill="#3a3a3a">WHT</text>
<path d="M814.60,660.80 A4.10,2.20 0 0 1 822.80,660.80" stroke="#333" stroke-width="1.0" fill="none"/>
<path d="M815.50,666.4 L818.70,663.0 L821.90,666.4" stroke="#5a5a6a" stroke-width="1" fill="none"/>
<text transform="translate(816.40,655.80) rotate(-90)" font-size="6.6" fill="#3a3a3a">B</text>
<text transform="translate(816.40,646.20) rotate(-90)" font-size="6.6" fill="#3a3a3a">RED/WHT</text>
<path d="M784.1,663 V688.4 H792.3 L793.4,686.3 L796,690.4 L798.3,686.3 L800.7,690.4 L803,686.3 L805.3,690.4 L807.6,686.3 L810.2,690.4 L812,688.4 H818.7 V663" stroke="#4a4a5a" stroke-width="1.1" fill="none" stroke-linejoin="miter"/>
<circle cx="784.1" cy="673.7" r="1.8" fill="#111"/><circle cx="818.7" cy="673.7" r="1.8" fill="#111"/>
<path d="M784.1,673.7 H791.7 a2.45,2.45 0 0 0 4.9,0 a2.45,2.45 0 0 0 4.9,0 a2.45,2.45 0 0 0 4.9,0 a2.45,2.45 0 0 0 4.9,0 H818.7" stroke="#4a4a5a" stroke-width="1.1" fill="none"/>
<path d="M792.00,678.50 L811.70,678.50" stroke="#5a5a6a" stroke-width="1.1" fill="none"/>
<path d="M792.00,681.40 L811.70,681.40" stroke="#5a5a6a" stroke-width="1.1" fill="none"/>
<text x="801.50" y="707.40" font-size="7" fill="#5a7cc6" text-anchor="middle">EVAPORATIVE</text>
<text x="801.50" y="715.80" font-size="7" fill="#5a7cc6" text-anchor="middle">EMISSIONS (EVAP)</text>
<text x="801.50" y="724.20" font-size="7" fill="#5a7cc6" text-anchor="middle">CANISTER VENT</text>
<text x="801.50" y="732.60" font-size="7" fill="#5a7cc6" text-anchor="middle">SOLENOID VALVE</text>
<text x="801.50" y="741.20" font-size="7" fill="#3a3a3a" text-anchor="middle">(ON EVAP</text>
<text x="801.50" y="749.40" font-size="7" fill="#3a3a3a" text-anchor="middle">CANISTER)</text>
</svg>
</body></html>
